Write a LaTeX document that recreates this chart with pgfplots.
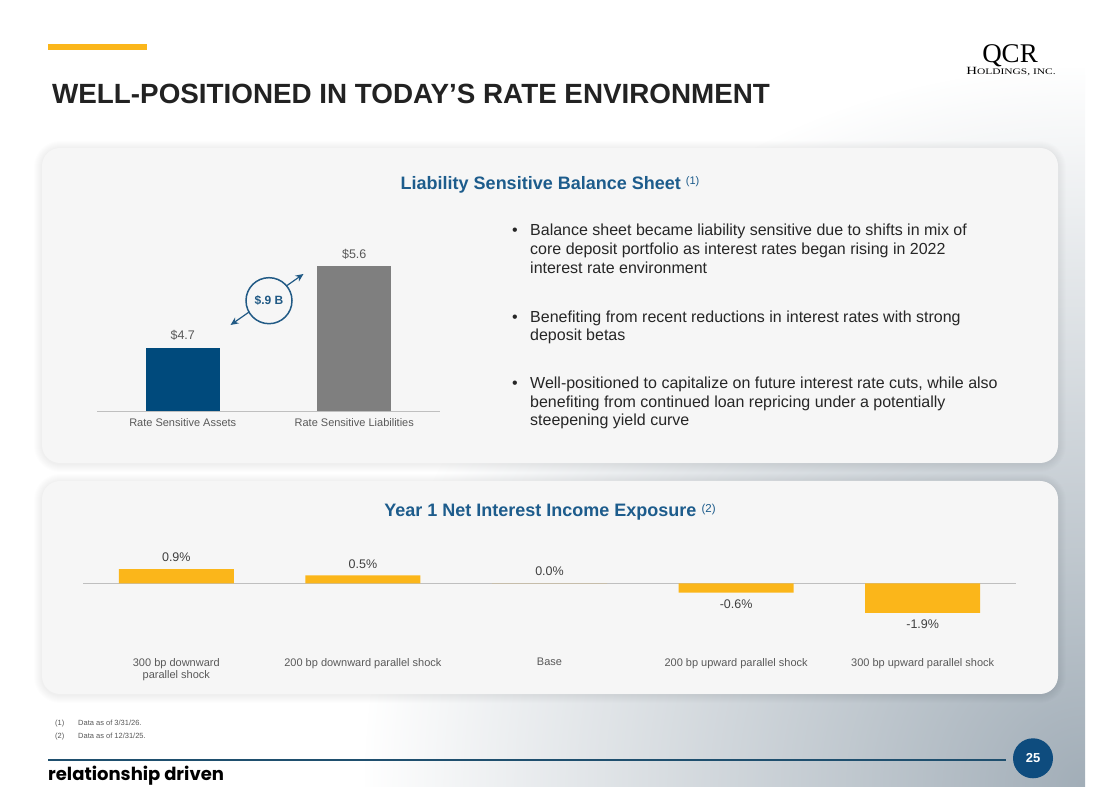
\documentclass[border=0pt]{standalone}
\usepackage{fontspec}
\setmainfont{Liberation Sans}
\newfontfamily\serifl{Liberation Serif}
\newfontfamily\pop{Poppins}
\usepackage{pgfplots}
\pgfplotsset{compat=1.18}
\usetikzlibrary{fadings,arrows.meta}
\newcommand\fs[1]{\fontsize{#1}{#1}\selectfont}
\definecolor{navy}{HTML}{004A7C}
\definecolor{bargray}{HTML}{7F7F7F}
\definecolor{gold}{HTML}{FBB61A}
\definecolor{ttlblue}{HTML}{1D5C8C}
\definecolor{circblue}{HTML}{215A85}
\definecolor{pagenavy}{HTML}{0E4C7E}
\definecolor{footline}{HTML}{1F4F6E}
\definecolor{txt}{HTML}{262626}
\definecolor{ttlblack}{HTML}{222222}
\definecolor{valgray}{HTML}{404040}
\definecolor{labgray}{HTML}{595959}
\definecolor{axgray}{HTML}{BFBFBF}
\definecolor{panelfill}{HTML}{F6F6F6}
\definecolor{bggray}{HTML}{A2AEB8}
\tikzfading[name=radfade, inner color=transparent!0, outer color=transparent!100]
\newcommand\panel[4]{%
 \foreach \i in {1,...,8}{\fill[black, opacity=0.009, rounded corners={18pt+\i pt}] ({#1-\i},{#2-\i-1}) rectangle ({#3+\i},{#4+\i-1});}
 \fill[panelfill, rounded corners=18pt] (#1,#2) rectangle (#3,#4);}
\begin{document}
\begin{tikzpicture}[x=1pt,y=1pt]
\path[use as bounding box] (0,0) rectangle (1100,800);
\fill[white] (0,0) rectangle (1100,800);
\begin{scope}
 \clip (0,13) rectangle (1085,800);
 \fill[bggray, path fading=radfade] (1085,13) circle (720);
\end{scope}
% panels
\panel{42}{337}{1058}{652}
\panel{42}{106}{1058}{319}
% header
\fill[gold] (48,750) rectangle (147,756);
\node[anchor=base west, inner sep=0, text=ttlblack, font=\bfseries\fs{27.8}] at (52,696) {WELL-POSITIONED IN TODAY’S RATE ENVIRONMENT};
\node[anchor=base, inner sep=0, text depth=0pt, font=\serifl\fs{27}] at (1010,737.5) {QCR};
\node[anchor=base, inner sep=0, font=\serifl] at (1011,725) {\scalebox{1.35}[1]{{\fs{11}H}{\fs{8.5}OLDINGS, INC.}}};
% panel titles
\node[anchor=base, inner sep=0, font=\bfseries\fs{18}, text=ttlblue] at (550,610) {Liability Sensitive Balance Sheet {\mdseries\fs{11}\raisebox{5pt}{(1)}}};
\node[anchor=base, inner sep=0, font=\bfseries\fs{18}, text=ttlblue] at (550,283) {Year 1 Net Interest Income Exposure {\mdseries\fs{11.5}\raisebox{4pt}{(2)}}};
% bullets
\tikzset{btxt/.style={anchor=base west, inner sep=0, font=\fs{16}, text=txt}}
\node[btxt] at (512,564) {•};
\node[btxt] at (530,564) {Balance sheet became liability sensitive due to shifts in mix of};
\node[btxt] at (530,545) {core deposit portfolio as interest rates began rising in 2022};
\node[btxt] at (530,526) {interest rate environment};
\node[btxt] at (512,477) {•};
\node[btxt] at (530,477) {Benefiting from recent reductions in interest rates with strong};
\node[btxt] at (530,459) {deposit betas};
\node[btxt] at (512,411) {•};
\node[btxt] at (530,411) {Well-positioned to capitalize on future interest rate cuts, while also};
\node[btxt] at (530,392) {benefiting from continued loan repricing under a potentially};
\node[btxt] at (530,374) {steepening yield curve};
% chart 1
\begin{axis}[at={(97pt,389pt)}, anchor=south west, scale only axis, width=343pt, height=180.8pt,
 xmin=-0.5, xmax=1.5, ymin=4, ymax=6,
 axis y line=none, axis x line*=bottom, axis line style={draw=axgray, line width=0.8pt},
 xtick={0,1}, xticklabels={Rate Sensitive Assets, Rate Sensitive Liabilities},
 major tick length=0pt, xticklabel style={font=\fs{11}, text=labgray, yshift=-4pt},
 ybar, bar width=74pt, bar shift=0pt,
 nodes near coords={\$\pgfmathprintnumber[fixed,fixed zerofill,precision=1]{\pgfplotspointmeta}},
 every node near coord/.append style={font=\fs{12.5}, text=labgray, inner sep=7pt},
 /pgf/number format/assume math mode=true]
\addplot[fill=navy, draw=none] coordinates {(0,4.7)};
\addplot[fill=bargray, draw=none] coordinates {(1,5.6)};
\end{axis}
\draw[circblue, line width=1.2pt, {Stealth[length=8pt,width=7pt]}-{Stealth[length=8pt,width=7pt]}] (230.5,475) -- (303.5,526);
\draw[circblue, line width=1.5pt, fill=panelfill] (269,499.3) circle (23);
\node[font=\bfseries\fs{12}, text=circblue] at (269,499.3) {\$.9 B};
% chart 2
\begin{axis}[at={(83pt,151.2pt)}, anchor=south west, scale only axis, width=933pt, height=88.92pt,
 xmin=-0.5, xmax=4.5, ymin=-4.2, ymax=1.5,
 axis y line=none, axis x line*=bottom, axis line style={draw=none},
 xtick={0,...,4}, xticklabels={{300 bp downward\\parallel shock},{200 bp downward parallel shock},{Base},{200 bp upward parallel shock},{300 bp upward parallel shock}},
 major tick length=0pt, xticklabel style={font=\fontsize{11}{12}\selectfont, text=labgray, align=center, yshift=-6pt},
 ybar, bar width=115pt, bar shift=0pt,
 nodes near coords={\pgfmathprintnumber[fixed,fixed zerofill,precision=1]{\pgfplotspointmeta}\%},
 every node near coord/.append style={font=\fs{12.5}, text=valgray, inner sep=7pt},
 /pgf/number format/assume math mode=true]
\draw[axgray, line width=0.8pt] (axis cs:-0.5,0) -- (axis cs:4.5,0);
\addplot[fill=gold, draw=none] coordinates {(0,0.9) (1,0.5) (2,0.0) (3,-0.6) (4,-1.9)};
\end{axis}
% footnotes
\node[anchor=base west, inner sep=0, font=\fs{7.5}, text=labgray] at (55,74) {(1)};
\node[anchor=base west, inner sep=0, font=\fs{7.5}, text=labgray] at (78,74) {Data as of 3/31/26.};
\node[anchor=base west, inner sep=0, font=\fs{7.5}, text=labgray] at (55,61) {(2)};
\node[anchor=base west, inner sep=0, font=\fs{7.5}, text=labgray] at (78,61) {Data as of 12/31/25.};
% footer
\draw[footline, line width=1.3pt] (48,40) -- (1006,40);
\fill[pagenavy] (1033,41.7) circle (20);
\node[font=\bfseries\fs{13}, text=white] at (1033,41.7) {25};
\node[anchor=base west, inner sep=0, font=\pop\bfseries\fs{18}] at (48,19) {relationship driven};
\end{tikzpicture}
\end{document}
